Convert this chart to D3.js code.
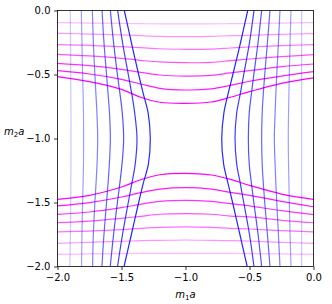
<!DOCTYPE html>
<html><head><meta charset="utf-8">
<script src="https://cdn.jsdelivr.net/npm/d3@7"></script>
<style>body{margin:0;background:#fff}svg{display:block}</style>
</head><body>
<script>
// ---- data ----
const xTicks = [-2.0, -1.5, -1.0, -0.5, 0.0];
const yTicks = [-2.0, -1.5, -1.0, -0.5, 0.0];

// magenta curves: y values sampled at these x positions
const magentaX = [-2, -1.75, -1.5, -1.35, -1.2, -1.0, -0.8, -0.65, -0.5, -0.25, 0];
const magentaTop1 = [-0.095, -0.098, -0.100, -0.103, -0.104, -0.105, -0.104, -0.103, -0.100, -0.098, -0.095];
const magentaTop2 = [-0.178, -0.184, -0.191, -0.197, -0.202, -0.204, -0.202, -0.197, -0.194, -0.186, -0.181];
const magentaTop3 = [-0.267, -0.272, -0.283, -0.290, -0.299, -0.303, -0.301, -0.293, -0.285, -0.275, -0.267];
const magentaTop4 = [-0.342, -0.355, -0.374, -0.389, -0.402, -0.408, -0.405, -0.392, -0.379, -0.361, -0.345];
const magentaTop5 = [-0.413, -0.431, -0.460, -0.483, -0.504, -0.512, -0.507, -0.488, -0.470, -0.439, -0.418];
const magentaTop6 = [-0.470, -0.496, -0.538, -0.574, -0.608, -0.621, -0.613, -0.585, -0.553, -0.512, -0.478];
const magentaTop7 = [-0.517, -0.556, -0.616, -0.678, -0.717, -0.725, -0.715, -0.678, -0.634, -0.569, -0.527];
const magentaBot7 = [-1.475, -1.444, -1.379, -1.322, -1.283, -1.272, -1.285, -1.319, -1.366, -1.434, -1.475];
const magentaBot6 = [-1.527, -1.501, -1.457, -1.423, -1.395, -1.384, -1.395, -1.421, -1.444, -1.491, -1.533];
const magentaBot5 = [-1.592, -1.574, -1.540, -1.514, -1.491, -1.483, -1.491, -1.509, -1.527, -1.564, -1.595];
const magentaBot4 = [-1.658, -1.645, -1.624, -1.608, -1.592, -1.587, -1.592, -1.606, -1.613, -1.639, -1.658];
const magentaBot3 = [-1.730, -1.723, -1.712, -1.702, -1.694, -1.691, -1.694, -1.702, -1.707, -1.720, -1.730];
const magentaBot2 = [-1.819, -1.811, -1.803, -1.798, -1.796, -1.793, -1.796, -1.798, -1.801, -1.811, -1.819];
const magentaBot1 = [-1.905, -1.902, -1.900, -1.898, -1.897, -1.897, -1.897, -1.898, -1.900, -1.902, -1.905];

// blue curves: x values sampled at these y positions
const blueY = [0, -0.25, -0.5, -0.65, -0.8, -1.0, -1.2, -1.35, -1.5, -1.75, -2.0];
const blueLeft1 = [-1.900, -1.898, -1.897, -1.896, -1.895, -1.895, -1.895, -1.896, -1.897, -1.899, -1.904];
const blueLeft2 = [-1.814, -1.809, -1.804, -1.800, -1.797, -1.796, -1.797, -1.800, -1.804, -1.809, -1.812];
const blueLeft3 = [-1.728, -1.720, -1.708, -1.700, -1.692, -1.686, -1.691, -1.699, -1.708, -1.720, -1.726];
const blueLeft4 = [-1.652, -1.637, -1.617, -1.605, -1.594, -1.587, -1.595, -1.605, -1.617, -1.637, -1.653];
const blueLeft5 = [-1.587, -1.562, -1.532, -1.512, -1.494, -1.483, -1.496, -1.513, -1.532, -1.562, -1.588];
const blueLeft6 = [-1.530, -1.492, -1.447, -1.420, -1.397, -1.379, -1.393, -1.419, -1.447, -1.492, -1.531];
const blueLeft7 = [-1.478, -1.423, -1.366, -1.330, -1.292, -1.275, -1.290, -1.330, -1.366, -1.423, -1.480];
const blueRight7 = [-0.514, -0.570, -0.630, -0.667, -0.700, -0.717, -0.702, -0.668, -0.632, -0.575, -0.518];
const blueRight6 = [-0.465, -0.500, -0.545, -0.572, -0.600, -0.613, -0.600, -0.572, -0.545, -0.500, -0.465];
const blueRight5 = [-0.405, -0.433, -0.466, -0.485, -0.502, -0.509, -0.502, -0.485, -0.466, -0.433, -0.405];
const blueRight4 = [-0.340, -0.360, -0.381, -0.392, -0.401, -0.405, -0.401, -0.392, -0.381, -0.360, -0.340];
const blueRight3 = [-0.262, -0.274, -0.287, -0.294, -0.300, -0.306, -0.300, -0.294, -0.287, -0.274, -0.262];
const blueRight2 = [-0.176, -0.183, -0.189, -0.192, -0.195, -0.197, -0.195, -0.192, -0.189, -0.183, -0.176];
const blueRight1 = [-0.093, -0.093, -0.093, -0.093, -0.093, -0.093, -0.093, -0.093, -0.093, -0.093, -0.093];

// ---- styling (level index -> opacity) ----
const levelOpacity = [0.28, 0.42, 0.56, 0.68, 0.8, 0.9, 1.0];
const blueOpacity = [0.22, 0.38, 0.5, 0.6, 0.68, 0.76, 0.85];

const W = 332, H = 304;
const svg = d3.select("body").append("svg").attr("width", W).attr("height", H);
const x = d3.scaleLinear().domain([-2, 0]).range([57.5, 313.5]);
const y = d3.scaleLinear().domain([-2, 0]).range([266.5, 10.5]);

svg.append("clipPath").attr("id", "clip").append("rect")
  .attr("x", x(-2)).attr("y", y(0)).attr("width", x(0) - x(-2)).attr("height", y(-2) - y(0));

const g = svg.append("g").attr("clip-path", "url(#clip)");
const line = d3.line().x(d => x(d[0])).y(d => y(d[1])).curve(d3.curveCatmullRom.alpha(0.5));

const magTop = [magentaTop1, magentaTop2, magentaTop3, magentaTop4, magentaTop5, magentaTop6, magentaTop7];
const magBot = [magentaBot1, magentaBot2, magentaBot3, magentaBot4, magentaBot5, magentaBot6, magentaBot7];
const bLeft = [blueLeft1, blueLeft2, blueLeft3, blueLeft4, blueLeft5, blueLeft6, blueLeft7];
const bRight = [blueRight1, blueRight2, blueRight3, blueRight4, blueRight5, blueRight6, blueRight7];

[magTop, magBot].forEach(set => set.forEach((ys, i) => {
  g.append("path").attr("d", line(magentaX.map((xv, k) => [xv, ys[k]])))
    .attr("fill", "none").attr("stroke", "#ff00ff").attr("stroke-opacity", levelOpacity[i]).attr("stroke-width", 1.2);
}));
[bLeft, bRight].forEach(set => set.forEach((xs, i) => {
  g.append("path").attr("d", line(blueY.map((yv, k) => [xs[k], yv])))
    .attr("fill", "none").attr("stroke", "#0000ff").attr("stroke-opacity", blueOpacity[i]).attr("stroke-width", 1.2);
}));

const fmt = v => d3.format(".1f")(v).replace("-", "\u2212");
const xAxis = svg.append("g").attr("transform", `translate(0,${y(-2)})`)
  .call(d3.axisBottom(x).tickValues(xTicks).tickFormat(fmt).tickSize(3.5).tickPadding(3.5));
const yAxis = svg.append("g").attr("transform", `translate(${x(-2)},0)`)
  .call(d3.axisLeft(y).tickValues(yTicks).tickFormat(fmt).tickSize(3.5).tickPadding(3.5));
[xAxis, yAxis].forEach(a => {
  a.select(".domain").remove();
  a.selectAll("line").attr("stroke", "#000").attr("stroke-width", 0.8);
  a.selectAll("text").attr("font-family", "DejaVu Sans").attr("font-size", 10).attr("fill", "#000");
});
svg.append("rect").attr("x", x(-2)).attr("y", y(0)).attr("width", x(0) - x(-2)).attr("height", y(-2) - y(0))
  .attr("fill", "none").attr("stroke", "#000").attr("stroke-width", 0.8);

// axis labels
const xl = svg.append("text").attr("x", (x(-2) + x(0)) / 2).attr("y", 298).attr("text-anchor", "middle")
  .attr("font-family", "DejaVu Sans").attr("font-size", 10);
xl.append("tspan").attr("font-style", "italic").text("m");
xl.append("tspan").attr("font-size", 7).attr("dy", 1.5).text("1");
xl.append("tspan").attr("font-style", "italic").attr("dy", -1.5).text("a");

const yl = svg.append("text").attr("x", 4).attr("y", 135).attr("text-anchor", "start")
  .attr("font-family", "DejaVu Sans").attr("font-size", 10);
yl.append("tspan").attr("font-style", "italic").text("m");
yl.append("tspan").attr("font-size", 7).attr("dy", 1.5).text("2");
yl.append("tspan").attr("font-style", "italic").attr("dy", -1.5).text("a");
</script>
</body></html>
